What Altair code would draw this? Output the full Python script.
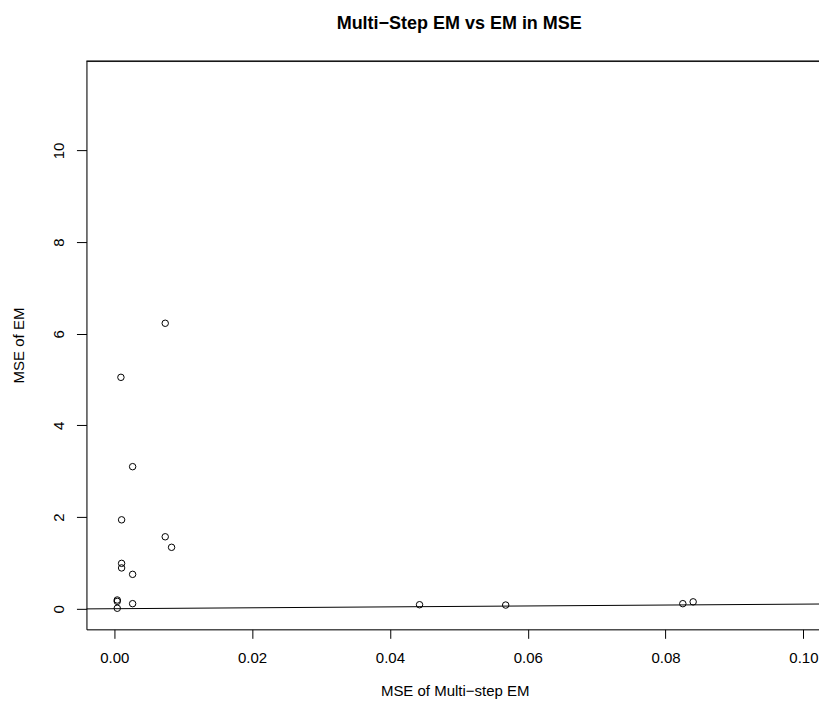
import altair as alt
import pandas as pd

# Data
mse_multistep = [0.0074, 0.00097, 0.00267, 0.00107, 0.0074, 0.00832, 0.00107, 0.00107,
                 0.00267, 0.00044, 0.00044, 0.00267, 0.00044, 0.0443, 0.0568, 0.0825, 0.0840]
mse_em = [6.23, 5.05, 3.10, 1.94, 1.57, 1.34, 0.99, 0.89,
          0.75, 0.19, 0.16, 0.11, 0.01, 0.087, 0.08, 0.11, 0.15]

x_domain = [-0.00403, 0.10226]
y_domain = [-0.45, 11.95]
x_ticks = [0.0, 0.02, 0.04, 0.06, 0.08, 0.10]
y_ticks = [0, 2, 4, 6, 8, 10]

# y = x reference line (abline(0, 1)) across the x range
line_x = x_domain
line_y = x_domain

W, H = 733, 568.5
FONT = "Liberation Sans"

df = pd.DataFrame({"x": mse_multistep, "y": mse_em})
ldf = pd.DataFrame({"x": line_x, "y": line_y})

xscale = alt.Scale(domain=x_domain, nice=False, zero=False)
yscale = alt.Scale(domain=y_domain, nice=False, zero=False)

xaxis = alt.Axis(values=x_ticks, format=".2f", tickSize=9, tickColor="black",
                 domainColor="black", labelColor="black", labelFontSize=15,
                 labelFont=FONT, labelBaseline="top", labelPadding=12,
                 grid=False, title="MSE of Multi\u2212step EM", titleFont=FONT,
                 titleFontSize=15, titleFontWeight="normal", titleColor="black",
                 titleBaseline="alphabetic", titleAnchor="start", titleAlign="center",
                 titleX=368.5, titleY=66.5, labelFlush=False, labelOverlap=False)

yaxis = alt.Axis(values=y_ticks, tickSize=10, tickColor="black",
                 domainColor="black", labelColor="black", labelFontSize=15,
                 labelFont=FONT, labelAngle=270, labelAlign="center",
                 labelBaseline="alphabetic", labelPadding=13.2, grid=False,
                 title="MSE of EM", titleFont=FONT, titleFontSize=15,
                 titleFontWeight="normal", titleColor="black", titleAngle=270,
                 titleAlign="center", titleBaseline="alphabetic",
                 titleX=-63.2, titleY=284, labelFlush=False, labelOverlap=False)

points = alt.Chart(df).mark_point(shape="circle", filled=False, color="black",
                                  strokeWidth=1, size=42, opacity=1).encode(
    x=alt.X("x:Q", scale=xscale, axis=xaxis),
    y=alt.Y("y:Q", scale=yscale, axis=yaxis),
)

line = alt.Chart(ldf).mark_line(color="black", strokeWidth=1, clip=True).encode(
    x=alt.X("x:Q", scale=xscale),
    y=alt.Y("y:Q", scale=yscale),
)

top_border = alt.Chart(ldf).mark_rule(color="black", strokeWidth=1).encode(
    x=alt.value(0), x2=alt.value(W), y=alt.value(0)
)

chart = alt.layer(line, points, top_border).properties(
    width=W,
    height=H,
    autosize=alt.AutoSizeParams(type="none"),
    padding={"left": 78.5, "top": 53, "right": 0, "bottom": 69},
    title=alt.TitleParams(
        text="Multi\u2212Step EM vs EM in MSE",
        font=FONT, fontSize=18, fontWeight="bold", color="black",
        anchor="middle", frame="group", baseline="alphabetic",
        offset=14, dx=6.5,
    ),
).configure_view(stroke=None).configure(background="white")

chart.save("out.html", embed_options={"renderer": "svg", "actions": False})
